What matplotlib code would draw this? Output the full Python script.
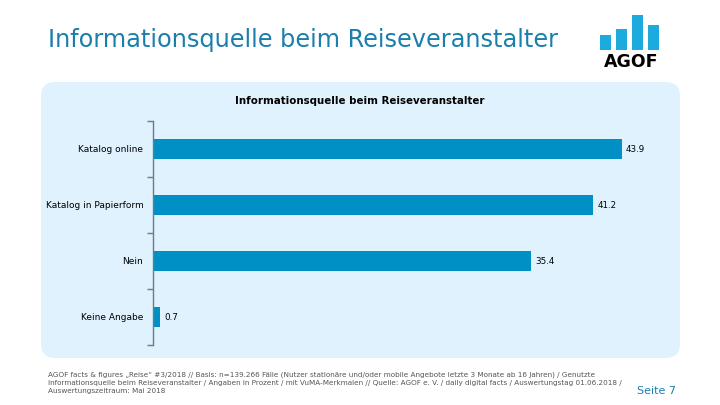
import matplotlib
matplotlib.use('Agg')
import matplotlib.pyplot as plt
from matplotlib.patches import FancyBboxPatch, Rectangle

categories = ['Katalog online', 'Katalog in Papierform', 'Nein', 'Keine Angabe']
values = [43.9, 41.2, 35.4, 0.7]
value_labels = ['43.9', '41.2', '35.4', '0.7']

logo_heights = [15, 21.3, 34.7, 25]

header = 'Informationsquelle beim Reiseveranstalter'
chart_title = 'Informationsquelle beim Reiseveranstalter'
footnote = ('AGOF facts & figures \u201eReise\u201c #3/2018 // Basis: n=139.266 F\u00e4lle (Nutzer station\u00e4re und/oder '
            'mobile Angebote letzte 3 Monate ab 16 Jahren) / Genutzte\n'
            'Informationsquelle beim Reiseveranstalter / Angaben in Prozent / mit VuMA-Merkmalen // Quelle: AGOF e. V. / '
            'daily digital facts / Auswertungstag 01.06.2018 /\n'
            'Auswertungszeitraum: Mai 2018')

BLUE = '#0090c5'
HEAD = '#1b7fab'
PANEL = '#dff2fd'
SPINE = '#5f7f93'

W, H = 720, 405
fig = plt.figure(figsize=(7.2, 4.05), dpi=100)
fig.patch.set_facecolor('white')

# light blue rounded panel (pixel coordinates, origin bottom left)
panel = FancyBboxPatch((41, H - 358), 639, 276, boxstyle='round,pad=0,rounding_size=14',
                       transform=None, facecolor=PANEL, edgecolor='none', zorder=-5)
fig.patches.append(panel)

fig.text(48 / W, 1 - 40 / H, header, color=HEAD, fontsize=17.3, va='center', ha='left')
fig.text(360 / W, 1 - 101 / H, chart_title, fontsize=7.4, fontweight='bold', ha='center', va='center')

# logo
lax = fig.add_axes([600 / W, 1 - 50 / H, 62 / W, 37 / H])
lax.set_xlim(0, 4)
lax.set_ylim(0, 37)
for i, h in enumerate(logo_heights):
    lax.add_patch(Rectangle((i * 1.03 + 0.02, 0), 0.72, h, color='#1daadd', lw=0))
lax.axis('off')
fig.text(631 / W, 1 - 62 / H, 'AGOF', fontsize=12.5, fontweight='bold', ha='center', va='center')

ax = fig.add_axes([153 / W, 1 - 345 / H, 534 / W, 224 / H])
ax.set_facecolor('none')
y = list(range(len(categories)))
ax.barh(y, values, height=0.37, color=BLUE, zorder=2)
for yi, v, lab in zip(y, values, value_labels):
    ax.text(v + 0.4, yi, lab, fontsize=6.3, va='center', ha='left', zorder=3)

ax.set_xlim(0, 50)
ax.set_ylim(3.5, -0.5)
ax.set_yticks([-0.5, 0.5, 1.5, 2.5, 3.5])
ax.set_yticklabels([])
ax.set_yticks(y, minor=True)
ax.set_yticklabels(categories, minor=True, fontsize=6.5)
ax.tick_params(axis='y', which='major', length=4, color=SPINE, width=1)
ax.tick_params(axis='y', which='minor', length=0, pad=7)
ax.set_xticks([])
for s in ['top', 'right', 'bottom']:
    ax.spines[s].set_visible(False)
ax.spines['left'].set_color(SPINE)
ax.spines['left'].set_linewidth(1)

fig.text(48 / W, 1 - 383 / H, footnote, fontsize=5.2, color='#555555', ha='left', va='center',
         linespacing=1.45)
fig.text(637 / W, 1 - 391 / H, 'Seite 7', fontsize=8, color=HEAD, ha='left', va='center')

fig.savefig('out.png', dpi=100)
